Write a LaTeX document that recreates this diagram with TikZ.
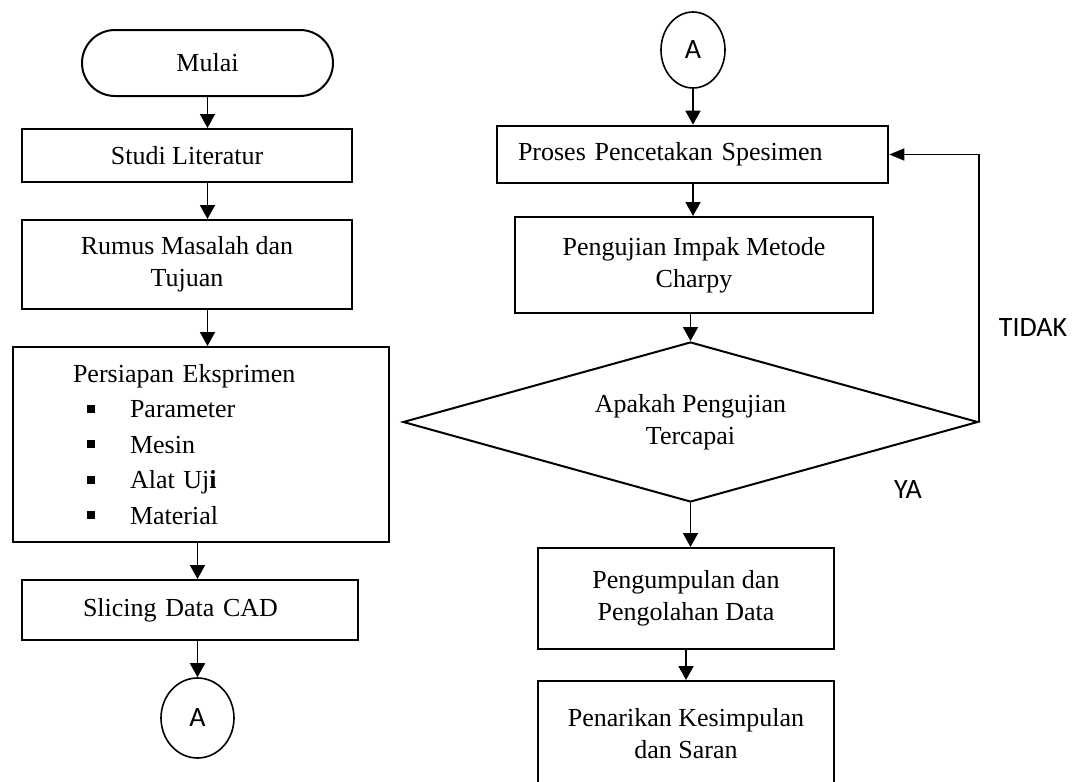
\documentclass[tikz,border=0pt]{standalone}
\usepackage{fontspec}
\setmainfont{Liberation Serif}
\newfontfamily\lblfont{Carlito}
\usetikzlibrary{shapes.geometric,arrows.meta}
\newcommand{\sqbullet}{\hspace*{14pt}\raisebox{5pt}{\rule{8pt}{8pt}}\hspace*{35pt}}
\begin{document}
\begin{tikzpicture}[x=1pt,y=-1pt,
  box/.style={draw,line width=2pt,rectangle,inner sep=0pt,align=center,
    font=\fontsize{26}{32}\selectfont},
  arr/.style={line width=1.8pt,-{Triangle[width=15pt,length=14pt]}},
  looparr/.style={line width=1.5pt,-{Triangle[width=12pt,length=15pt]}},
  conn/.style={ellipse,draw,line width=1.6pt,inner sep=0pt,
    font=\lblfont\fontsize{28}{30}\selectfont},
  lbl/.style={font=\lblfont\fontsize{28}{30}\selectfont,inner sep=0pt}]
\clip (0,0) rectangle (1077,782);
% left column
\node[box,rounded corners=33pt,minimum width=251pt,minimum height=66pt] (mulai) at (207.5,63) {Mulai};
\node[box,minimum width=330pt,minimum height=53pt] (studi) at (187,155.5) {Studi Literatur};
\node[box,minimum width=330pt,minimum height=89pt] (rumus) at (187,264.5) {Rumus Masalah dan\\Tujuan};
\node[box,minimum width=376pt,minimum height=195pt,text width=256pt,inner xsep=60pt,align=left,
  font=\fontsize{26}{35.5}\selectfont] (persiapan) at (201,444.5)
  {Persiapan Eksprimen\\
   \sqbullet Parameter\\
   \sqbullet Mesin\\
   \sqbullet Alat Uj\textbf{i}\\
   \sqbullet Material};
\node[box,minimum width=336pt,minimum height=60pt,text width=214pt,inner xsep=61pt,align=left] (slicing) at (190,610) {Slicing Data CAD};
\node[conn,minimum width=73pt,minimum height=80pt] (Aleft) at (197.5,718) {A};
% right column
\node[conn,minimum width=64pt,minimum height=76pt] (Aright) at (693,50) {A};
\node[box,line width=2.6pt,minimum width=391pt,minimum height=57pt,text width=349pt,inner xsep=21pt,align=left] (proses) at (692.5,154.5) {Proses Pencetakan Spesimen};
\node[box,minimum width=358pt,minimum height=96pt] (pengujian) at (694,265) {Pengujian Impak Metode\\Charpy};
\node[diamond,draw,line width=2pt,aspect=3.6,inner sep=0pt,minimum width=575pt,minimum height=160pt,
  align=center,font=\fontsize{26}{32}\selectfont] (dec) at (690.5,422) {Apakah Pengujian\\Tercapai};
\node[box,minimum width=296pt,minimum height=101pt] (kumpul) at (686,598.5) {Pengumpulan dan\\Pengolahan Data};
\node[box,minimum width=296pt,minimum height=106pt] (tarik) at (686,734) {Penarikan Kesimpulan\\dan Saran};
\node[lbl] (tidak) at (1033,328) {TIDAK};
\node[lbl] (ya) at (908,490) {YA};
% connectors
\draw[arr] (mulai.south) -- (mulai.south |- studi.north);
\draw[arr] (studi.south -| mulai.south) -- (rumus.north -| mulai.south);
\draw[arr] (rumus.south -| mulai.south) -- (persiapan.north -| mulai.south);
\draw[arr] (persiapan.south -| Aleft.north) -- (slicing.north -| Aleft.north);
\draw[arr] (slicing.south -| Aleft.north) -- (Aleft.north);
\draw[arr] (Aright.south) -- (proses.north -| Aright.south);
\draw[arr] (proses.south -| Aright.south) -- (pengujian.north -| Aright.south);
\draw[arr] (pengujian.south -| dec.north) -- (dec.north);
\draw[arr] (dec.south) -- (dec.south |- kumpul.north);
\draw[arr] (kumpul.south) -- (tarik.north);
\draw[looparr] (dec.east) |- (proses.east);
\end{tikzpicture}
\end{document}
